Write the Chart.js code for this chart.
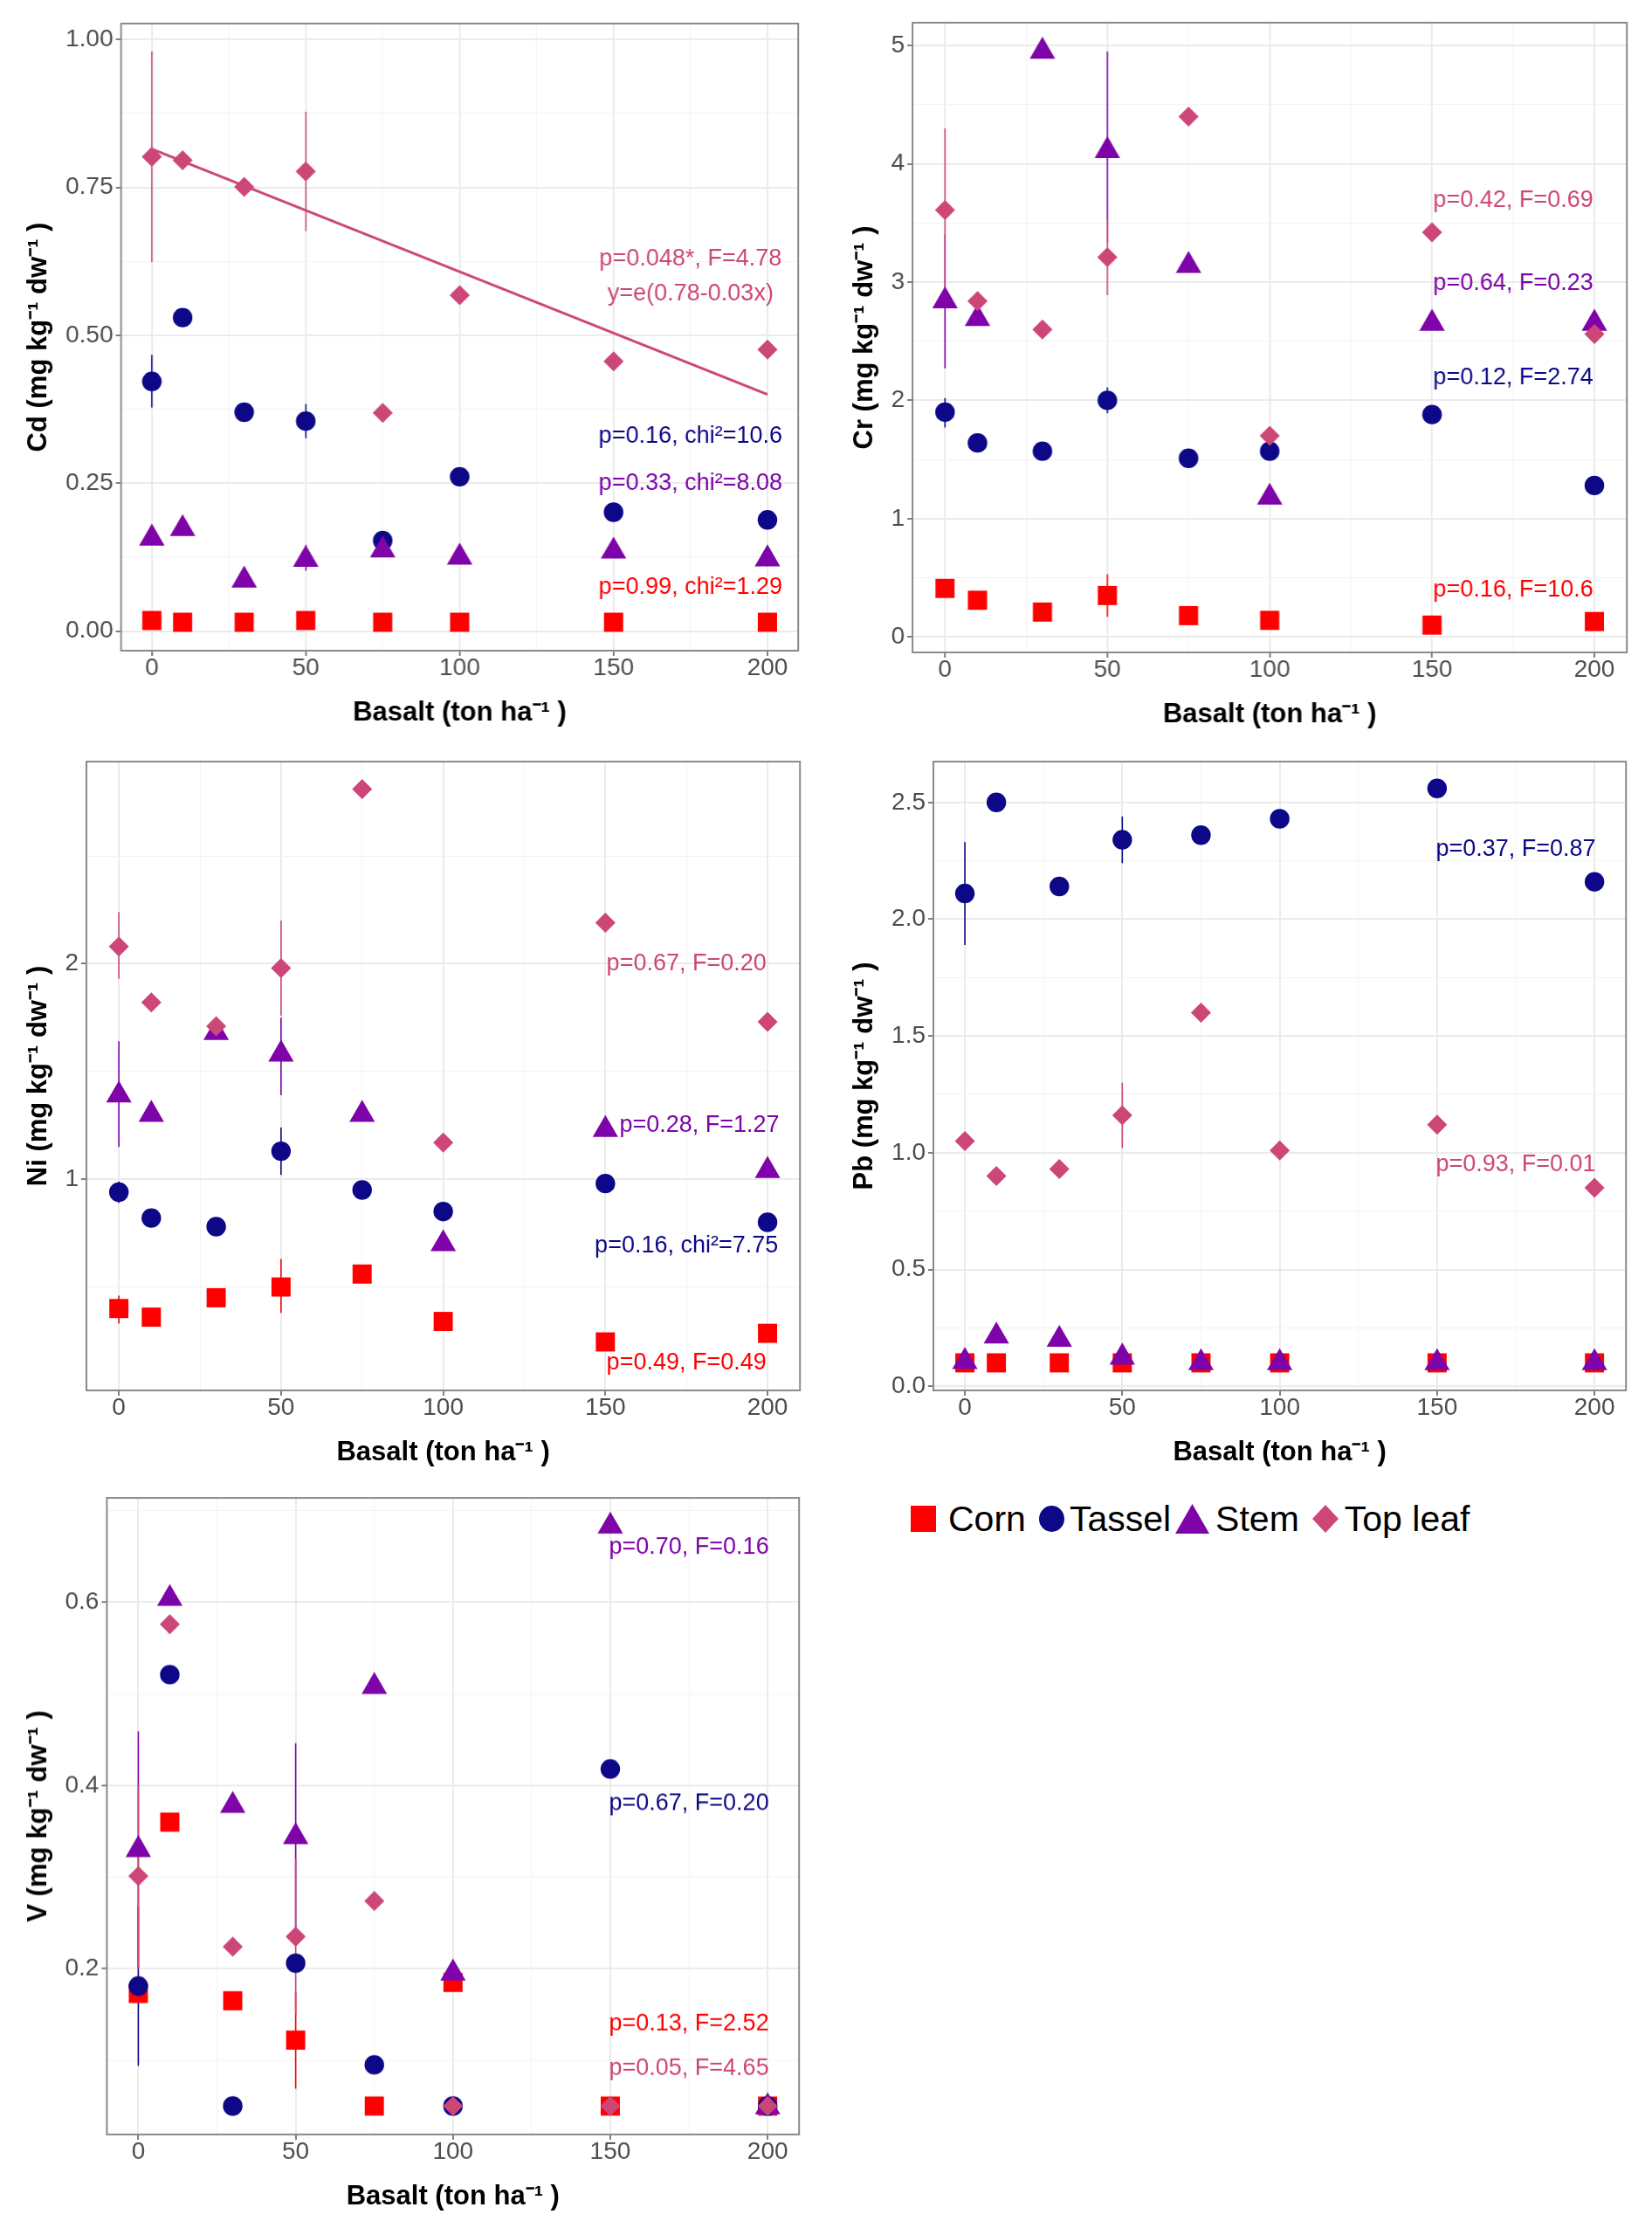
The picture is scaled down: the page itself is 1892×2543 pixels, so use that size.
<!DOCTYPE html>
<html>
<head>
<meta charset="utf-8">
<script src="https://cdn.jsdelivr.net/npm/chart.js@4.4.1/dist/chart.umd.min.js"></script>
<style>
  html, body { margin: 0; padding: 0; background: #fff; }
  body { width: 1892px; height: 2543px; position: relative; overflow: hidden;
         font-family: "Liberation Sans", Arial, sans-serif; }
  .panel { position: absolute; }
  #legend { position: absolute; left: 1043px; top: 1714px; height: 50px;
            display: flex; align-items: center; font-size: 41px; color: #000; white-space: nowrap; }
  #legend svg { display: block; }
</style>
</head>
<body>
<div id="legend"></div>
<script>
// ---- data ----
const basalt = [0, 10, 30, 50, 75, 100, 150, 200];
const seriesNames = ['Corn', 'Tassel', 'Stem', 'Top leaf'];
const seriesColors = ['#FF0000', '#0D0887', '#7E03A8', '#CC4778'];

const xTicks = [0, 50, 100, 150, 200];
const xMinor = [25, 75, 125, 175];

// Cd
const cdCorn   = [0.018, 0.015, 0.015, 0.018, 0.015, 0.015, 0.015, 0.015];
const cdTassel = [0.422, 0.530, 0.370, 0.355, 0.153, 0.261, 0.201, 0.188];
const cdStem   = [0.157, 0.173, 0.086, 0.121, 0.137, 0.125, 0.135, 0.122];
const cdLeaf   = [0.802, 0.796, 0.751, 0.777, 0.369, 0.568, 0.456, 0.476];
const cdFitX = [0, 200];
const cdFitY = [0.815, 0.400];
const cdTasselErr = [[0, 0.378, 0.467], [50, 0.326, 0.384]];
const cdStemErr   = [[50, 0.102, 0.146]];
const cdLeafErr   = [[0, 0.624, 0.980], [50, 0.676, 0.878]];
const cdNotes  = ['p=0.048*, F=4.78', 'y=e(0.78-0.03x)', 'p=0.16, chi²=10.6', 'p=0.33, chi²=8.08', 'p=0.99, chi²=1.29'];
const cdNoteY  = [0.629, 0.570, 0.330, 0.249, 0.074];
const cdNoteOf = [3, 3, 1, 2, 0];
const cdTicks = [0, 0.25, 0.5, 0.75, 1];
const cdMinor = [0.125, 0.375, 0.625, 0.875];

// Cr
const crCorn   = [0.41, 0.31, 0.21, 0.35, 0.18, 0.14, 0.10, 0.13];
const crTassel = [1.90, 1.64, 1.57, 2.00, 1.51, 1.57, 1.88, 1.28];
const crStem   = [2.84, 2.69, 4.95, 4.11, 3.14, 1.18, 2.65, 2.65];
const crLeaf   = [3.61, 2.84, 2.60, 3.21, 4.40, 1.70, 3.42, 2.56];
const crCornErr   = [[50, 0.17, 0.53]];
const crTasselErr = [[0, 1.77, 2.02], [50, 1.89, 2.11]];
const crStemErr   = [[0, 2.27, 3.40], [50, 3.33, 4.95]];
const crLeafErr   = [[0, 2.92, 4.30], [50, 2.89, 3.53]];
const crNotes  = ['p=0.42, F=0.69', 'p=0.64, F=0.23', 'p=0.12, F=2.74', 'p=0.16, F=10.6'];
const crNoteY  = [3.69, 2.99, 2.19, 0.40];
const crNoteOf = [3, 2, 1, 0];
const crTicks = [0, 1, 2, 3, 4, 5];
const crMinor = [0.5, 1.5, 2.5, 3.5, 4.5];

// Ni
const niCorn   = [0.40, 0.36, 0.45, 0.50, 0.56, 0.34, 0.245, 0.285];
const niTassel = [0.94, 0.82, 0.78, 1.13, 0.95, 0.85, 0.98, 0.80];
const niStem   = [1.39, 1.30, 1.68, 1.58, 1.30, 0.70, 1.23, 1.04];
const niLeaf   = [2.08, 1.82, 1.71, 1.98, 2.81, 1.17, 2.19, 1.73];
const niCornErr   = [[0, 0.33, 0.46], [50, 0.38, 0.63]];
const niTasselErr = [[0, 0.89, 0.99], [50, 1.02, 1.24]];
const niStemErr   = [[0, 1.15, 1.64], [50, 1.39, 1.75]];
const niLeafErr   = [[0, 1.93, 2.24], [50, 1.76, 2.20]];
const niNotes  = ['p=0.67, F=0.20', 'p=0.28, F=1.27', 'p=0.16, chi²=7.75', 'p=0.49, F=0.49'];
const niNoteY  = [2.00, 1.25, 0.69, 0.146];
const niNoteX  = [175, 179, 175, 175];
const niNoteOf = [3, 2, 1, 0];
const niTicks = [1, 2];
const niMinor = [0.5, 1.5, 2.5];

// Pb
const pbCorn   = [0.10, 0.10, 0.10, 0.10, 0.10, 0.10, 0.10, 0.10];
const pbTassel = [2.11, 2.50, 2.14, 2.34, 2.36, 2.43, 2.56, 2.16];
const pbStem   = [0.105, 0.214, 0.20, 0.124, 0.10, 0.10, 0.10, 0.10];
const pbLeaf   = [1.05, 0.90, 0.93, 1.16, 1.60, 1.01, 1.12, 0.85];
const pbTasselErr = [[0, 1.89, 2.33], [50, 2.24, 2.44]];
const pbLeafErr   = [[50, 1.02, 1.30]];
const pbNotes  = ['p=0.37, F=0.87', 'p=0.93, F=0.01'];
const pbNoteY  = [2.30, 0.947];
const pbNoteOf = [1, 3];
const pbTicks = [0, 0.5, 1, 1.5, 2, 2.5];
const pbMinor = [0.25, 0.75, 1.25, 1.75, 2.25];

// V
const vCorn   = [0.173, 0.360, 0.165, 0.122, 0.050, 0.185, 0.050, 0.050];
const vTassel = [0.181, 0.521, 0.050, 0.206, 0.095, 0.050, 0.418, 0.050];
const vStem   = [0.330, 0.604, 0.378, 0.344, 0.508, 0.195, 0.683, 0.049];
const vLeaf   = [0.301, 0.576, 0.224, 0.235, 0.274, 0.050, 0.050, 0.050];
const vCornErr   = [[50, 0.069, 0.175]];
const vTasselErr = [[0, 0.094, 0.268]];
const vStemErr   = [[0, 0.201, 0.459], [50, 0.242, 0.446]];
const vLeafErr   = [[0, 0.20, 0.40], [50, 0.15, 0.32]];
const vNotes  = ['p=0.70, F=0.16', 'p=0.67, F=0.20', 'p=0.13, F=2.52', 'p=0.05, F=4.65'];
const vNoteY  = [0.660, 0.380, 0.140, 0.091];
const vNoteOf = [2, 1, 0, 3];
const vTicks = [0.2, 0.4, 0.6];
const vMinor = [0.1, 0.3, 0.5, 0.7];

// ---- styling ----
Chart.defaults.font.family = '"Liberation Sans", Arial, sans-serif';
const pointStyles = ['rect', 'circle', 'triangle', 'rectRot'];
const pointSizes  = [15.5, 11.2, 16.8, 11.5];
const drawOrder   = [4, 3, 2, 1];

function pairs(xs, ys) {
  return xs.map((x, i) => ({ x: x, y: ys[i] }));
}

function tickBuilder(major, minor) {
  return axis => {
    const list = major.map(v => ({ value: v, minor: false }))
      .concat(minor.map(v => ({ value: v, minor: true })));
    list.sort((a, b) => a.value - b.value);
    axis.ticks = list;
  };
}

const gridStyle = {
  color: c => (c.tick && c.tick.minor ? '#F3F3F3' : '#EBEBEB'),
  lineWidth: c => (c.tick && c.tick.minor ? 1 : 2),
  tickColor: c => (c.tick && c.tick.minor ? 'rgba(0,0,0,0)' : '#555555'),
  tickWidth: 1.5,
  tickLength: 6,
  drawTicks: true
};

const framePlugin = {
  id: 'frame',
  afterDatasetsDraw(chart) {
    const a = chart.chartArea, ctx = chart.ctx;
    ctx.save();
    ctx.strokeStyle = '#8A8A8A';
    ctx.lineWidth = 2;
    ctx.strokeRect(a.left, a.top, a.right - a.left, a.bottom - a.top);
    ctx.restore();
  }
};

function errorPlugin(bars) {
  return {
    id: 'errorBars',
    beforeDatasetsDraw(chart) {
      const ctx = chart.ctx, x = chart.scales.x, y = chart.scales.y;
      ctx.save();
      ctx.lineWidth = 1.6;
      bars.forEach(b => {
        ctx.strokeStyle = seriesColors[b.s];
        b.data.forEach(e => {
          const px = x.getPixelForValue(e[0]);
          ctx.beginPath();
          ctx.moveTo(px, y.getPixelForValue(e[1]));
          ctx.lineTo(px, y.getPixelForValue(e[2]));
          ctx.stroke();
        });
      });
      ctx.restore();
    }
  };
}

function notePlugin(texts, ys, xs, owners) {
  return {
    id: 'notes',
    afterDatasetsDraw(chart) {
      const ctx = chart.ctx, x = chart.scales.x, y = chart.scales.y;
      ctx.save();
      ctx.font = '27px "Liberation Sans", Arial, sans-serif';
      ctx.textAlign = 'center';
      ctx.textBaseline = 'middle';
      texts.forEach((t, i) => {
        ctx.fillStyle = seriesColors[owners[i]];
        ctx.fillText(t, x.getPixelForValue(xs ? xs[i] : 175), y.getPixelForValue(ys[i]));
      });
      ctx.restore();
    }
  };
}

function makePanel(p) {
  const colX = p.col;
  const [fl, ft, fr, fb] = p.frame;
  const top = ft - 20, width = fr + 10 - colX, height = fb + 94 - top;
  const div = document.createElement('div');
  div.className = 'panel';
  div.style.left = colX + 'px';
  div.style.top = top + 'px';
  div.style.width = width + 'px';
  div.style.height = height + 'px';
  const cv = document.createElement('canvas');
  cv.width = width; cv.height = height;
  cv.style.width = width + 'px'; cv.style.height = height + 'px';
  div.appendChild(cv);
  document.body.appendChild(div);

  const datasets = p.series.map((vals, i) => ({
    label: seriesNames[i],
    data: pairs(basalt, vals),
    pointStyle: pointStyles[i],
    pointRadius: pointSizes[i],
    backgroundColor: seriesColors[i],
    borderColor: seriesColors[i],
    borderWidth: 0,
    order: drawOrder[i],
    clip: false
  }));
  if (p.fit) {
    datasets.push({
      label: 'fit',
      data: pairs(p.fit[0], p.fit[1]),
      showLine: true,
      pointRadius: 0,
      borderColor: seriesColors[3],
      borderWidth: 3,
      order: 1.5
    });
  }

  new Chart(cv, {
    type: 'scatter',
    data: { datasets: datasets },
    options: {
      responsive: false,
      animation: false,
      events: [],
      layout: { padding: { left: 0, top: 20, right: 10, bottom: 0 } },
      plugins: { legend: { display: false }, tooltip: { enabled: false } },
      scales: {
        x: {
          type: 'linear', min: -10, max: 210,
          afterBuildTicks: tickBuilder(xTicks, xMinor),
          afterFit: s => { s.height = 94; },
          grid: gridStyle,
          border: { display: false },
          ticks: {
            font: { size: 28 }, color: '#4D4D4D', padding: -3,
            maxRotation: 0, autoSkip: false,
            callback: (v, i, t) => (t[i].minor ? '' : String(v))
          },
          title: {
            display: true, text: 'Basalt (ton ha⁻¹ )', color: '#000',
            font: { size: 31, weight: 'bold' }, padding: { top: 0, bottom: 4 }
          }
        },
        y: {
          type: 'linear', min: p.yMin, max: p.yMax,
          afterBuildTicks: tickBuilder(p.ticks, p.minor),
          afterFit: s => { s.width = fl - colX; },
          grid: gridStyle,
          border: { display: false },
          ticks: {
            font: { size: 28 }, color: '#4D4D4D', padding: 3, autoSkip: false,
            callback: (v, i, t) => (t[i].minor ? '' : v.toFixed(p.dec))
          },
          title: {
            display: true, text: p.name + ' (mg kg⁻¹ dw⁻¹ )', color: '#000',
            font: { size: 31, weight: 'bold' }, padding: { top: 26, bottom: 0 }
          }
        }
      }
    },
    plugins: [errorPlugin(p.err), notePlugin(p.notes, p.noteY, p.noteX, p.noteOf), framePlugin]
  });
}

makePanel({
  name: 'Cd', col: 0, frame: [138.5, 27, 920.5, 745], yMin: -0.033, yMax: 1.027,
  ticks: cdTicks, minor: cdMinor, dec: 2,
  series: [cdCorn, cdTassel, cdStem, cdLeaf], fit: [cdFitX, cdFitY],
  err: [{ s: 1, data: cdTasselErr }, { s: 2, data: cdStemErr }, { s: 3, data: cdLeafErr }],
  notes: cdNotes, noteY: cdNoteY, noteOf: cdNoteOf
});
makePanel({
  name: 'Cr', col: 946, frame: [1045, 26, 1869.5, 747], yMin: -0.131, yMax: 5.193,
  ticks: crTicks, minor: crMinor, dec: 0,
  series: [crCorn, crTassel, crStem, crLeaf],
  err: [{ s: 0, data: crCornErr }, { s: 1, data: crTasselErr }, { s: 2, data: crStemErr }, { s: 3, data: crLeafErr }],
  notes: crNotes, noteY: crNoteY, noteOf: crNoteOf
});
makePanel({
  name: 'Ni', col: 0, frame: [99, 872, 923, 1592], yMin: 0.02, yMax: 2.938,
  ticks: niTicks, minor: niMinor, dec: 0,
  series: [niCorn, niTassel, niStem, niLeaf],
  err: [{ s: 0, data: niCornErr }, { s: 1, data: niTasselErr }, { s: 2, data: niStemErr }, { s: 3, data: niLeafErr }],
  notes: niNotes, noteY: niNoteY, noteX: niNoteX, noteOf: niNoteOf
});
makePanel({
  name: 'Pb', col: 946, frame: [1069, 872, 1869, 1592], yMin: -0.018, yMax: 2.675,
  ticks: pbTicks, minor: pbMinor, dec: 1,
  series: [pbCorn, pbTassel, pbStem, pbLeaf],
  err: [{ s: 1, data: pbTasselErr }, { s: 3, data: pbLeafErr }],
  notes: pbNotes, noteY: pbNoteY, noteOf: pbNoteOf
});
makePanel({
  name: 'V', col: 0, frame: [122.4, 1715.3, 922.4, 2444], yMin: 0.019, yMax: 0.714,
  ticks: vTicks, minor: vMinor, dec: 1,
  series: [vCorn, vTassel, vStem, vLeaf],
  err: [{ s: 0, data: vCornErr }, { s: 1, data: vTasselErr }, { s: 2, data: vStemErr }, { s: 3, data: vLeafErr }],
  notes: vNotes, noteY: vNoteY, noteOf: vNoteOf
});

// ---- legend ----
const legendShapes = [
  '<svg width="29" height="30"><rect x="0" y="0" width="29" height="30" fill="COL"/></svg>',
  '<svg width="29" height="30"><ellipse cx="14.5" cy="15" rx="14.5" ry="15" fill="COL"/></svg>',
  '<svg width="39" height="34"><polygon points="19.5,0 39,34 0,34" fill="COL"/></svg>',
  '<svg width="30" height="32"><polygon points="15,0 30,16 15,32 0,16" fill="COL"/></svg>'
];
const legendGaps = [[0, 14], [15, 6], [5, 7], [15, 7]];
const legend = document.getElementById('legend');
seriesNames.forEach((n, i) => {
  const key = document.createElement('span');
  key.innerHTML = legendShapes[i].replace('COL', seriesColors[i]);
  key.style.marginLeft = legendGaps[i][0] + 'px';
  key.style.marginRight = legendGaps[i][1] + 'px';
  const lab = document.createElement('span');
  lab.textContent = n;
  legend.appendChild(key);
  legend.appendChild(lab);
});
</script>
</body>
</html>
